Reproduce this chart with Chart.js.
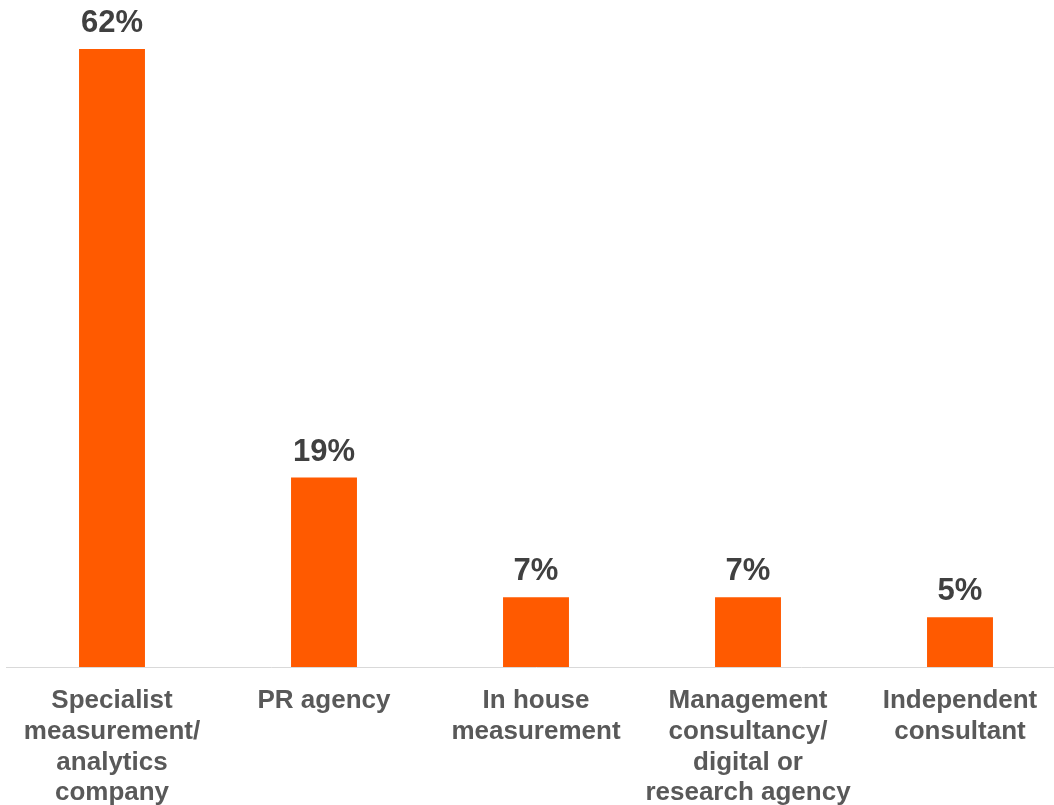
<!DOCTYPE html>
<html>
<head>
<meta charset="utf-8">
<script src="https://cdn.jsdelivr.net/npm/chart.js@4"></script>
<style>
html,body{margin:0;padding:0;background:#fff;overflow:hidden;}
#wrap{width:1066px;height:805px;position:relative;}
</style>
</head>
<body>
<div id="wrap"><canvas id="c"></canvas></div>
<script>
const categories = [
  ["Specialist","measurement/","analytics","company"],
  "PR agency",
  ["In house","measurement"],
  ["Management","consultancy/","digital or","research agency"],
  ["Independent","consultant"]
];
const values = [62, 19, 7, 7, 5];
const valueLabels = ["62%", "19%", "7%", "7%", "5%"];

const labelPlugin = {
  id: 'valueLabels',
  afterDatasetsDraw(chart) {
    const ctx = chart.ctx;
    const meta = chart.getDatasetMeta(0);
    ctx.save();
    ctx.font = 'bold 31px "Liberation Sans", Arial, sans-serif';
    ctx.fillStyle = '#404040';
    ctx.textAlign = 'center';
    ctx.textBaseline = 'alphabetic';
    meta.data.forEach((bar, i) => {
      ctx.fillText(valueLabels[i], bar.x, bar.y - 17);
    });
    ctx.restore();
  }
};

new Chart(document.getElementById('c'), {
  type: 'bar',
  data: {
    labels: categories,
    datasets: [{
      data: values,
      backgroundColor: '#FF5A00',
      borderWidth: 0,
      barPercentage: 1,
      categoryPercentage: 0.311
    }]
  },
  options: {
    responsive: true,
    maintainAspectRatio: false,
    animation: false,
    layout: { padding: { top: 49, left: 6, right: 0, bottom: 0 } },
    plugins: { legend: { display: false }, tooltip: { enabled: false } },
    scales: {
      y: { display: false, min: 0, max: 62 },
      x: {
        grid: { display: false, drawTicks: false },
        border: { display: true, color: '#d9d9d9', width: 1 },
        ticks: {
          color: '#595959',
          font: { family: '"Liberation Sans", Arial, sans-serif', size: 26, weight: 'bold', lineHeight: 1.19 },
          padding: 18,
          maxRotation: 0,
          autoSkip: false
        },
        afterFit(scale) { scale.height = 138; }
      }
    }
  },
  plugins: [labelPlugin]
});
</script>
</body>
</html>
